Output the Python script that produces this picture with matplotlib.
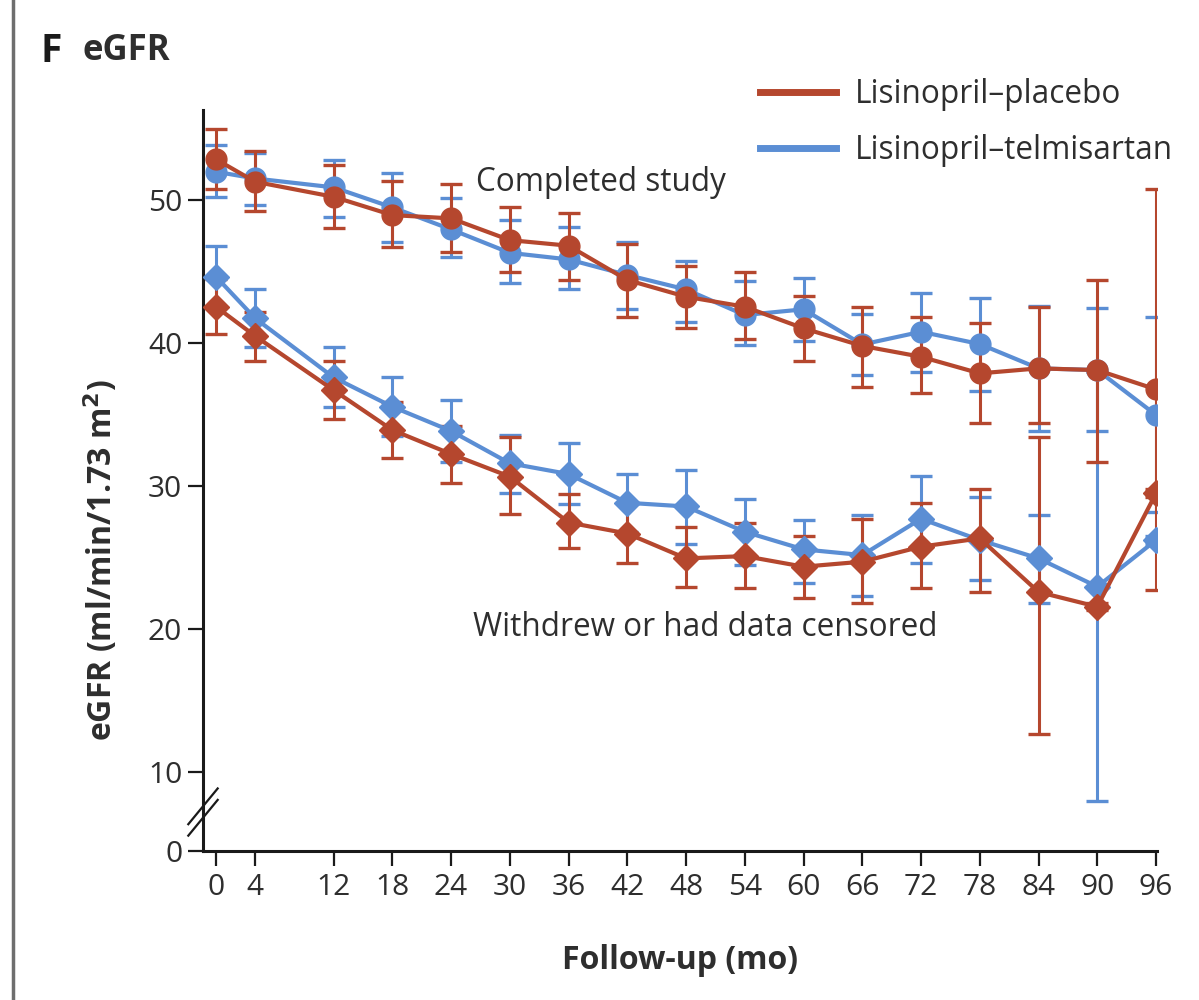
import matplotlib
matplotlib.use('Agg')
import matplotlib.pyplot as plt
import numpy as np
from matplotlib.lines import Line2D

plt.rcParams['font.family'] = ['Open Sans', 'DejaVu Sans']

# follow-up visits (months)
months = [0, 4, 12, 18, 24, 30, 36, 42, 48, 54, 60, 66, 72, 78, 84, 90, 96]

# completed study -- lisinopril-placebo
comp_plac = [52.85, 51.28, 50.23, 48.95, 48.72, 47.20, 46.81, 44.41, 43.24,
             42.54, 41.03, 39.80, 39.04, 37.88, 38.23, 38.11, 36.76]
comp_plac_lo = [50.75, 49.25, 48.06, 46.74, 46.39, 44.99, 44.41, 41.84, 41.03,
                40.26, 38.74, 36.90, 36.48, 34.38, 34.38, 31.70, 22.73]
comp_plac_hi = [54.94, 53.43, 52.45, 51.33, 51.10, 49.49, 49.11, 46.90, 45.41,
                44.99, 43.31, 42.54, 41.79, 41.37, 42.54, 44.41, 50.77]

# completed study -- lisinopril-telmisartan
comp_telm = [51.98, 51.51, 50.89, 49.49, 47.95, 46.31, 45.85, 44.76, 43.75,
             41.96, 42.36, 39.90, 40.79, 39.93, 38.23, 38.11, 34.97]
comp_telm_lo = [50.23, 49.67, 48.83, 47.09, 45.99, 44.17, 43.76, 42.36, 41.49,
                39.86, 40.16, 37.76, 37.97, 36.64, 33.85, 33.85, 28.20]
comp_telm_hi = [53.85, 53.30, 52.80, 51.91, 50.12, 48.60, 48.13, 47.10, 45.73,
                44.34, 44.52, 42.00, 43.47, 43.12, 42.60, 42.47, 41.79]

# withdrew or censored -- lisinopril-placebo
wd_plac = [42.54, 40.49, 36.71, 33.92, 32.24, 30.66, 27.45, 26.68, 24.94,
           25.10, 24.36, 24.71, 25.76, 26.34, 22.59, 21.56, 29.49]
wd_plac_lo = [40.61, 38.74, 34.69, 31.94, 30.24, 28.02, 25.64, 24.59, 22.96,
              22.84, 22.19, 21.84, 22.84, 22.59, 12.69, 21.30, 29.20]
wd_plac_hi = [44.45, 42.20, 38.74, 35.90, 34.20, 33.45, 29.44, 28.80, 27.15,
              27.43, 26.50, 27.67, 28.79, 29.77, 33.45, 21.80, 29.80]

# withdrew or censored -- lisinopril-telmisartan
wd_telm = [44.64, 41.73, 37.60, 35.55, 33.85, 31.59, 30.84, 28.83, 28.57,
           26.80, 25.57, 25.17, 27.71, 26.22, 24.94, 22.96, 26.22]
wd_telm_lo = [42.50, 39.74, 35.55, 33.50, 31.70, 29.54, 28.74, 26.80, 25.92,
              24.50, 23.24, 22.30, 24.59, 23.40, 21.84, 8.00, 25.95]
wd_telm_hi = [46.81, 43.76, 39.74, 37.60, 36.01, 33.60, 33.03, 30.84, 31.12,
              29.09, 27.62, 28.00, 30.70, 29.25, 27.97, 38.00, 26.50]

RED = '#b5472e'
BLUE = '#5b8ed4'
TXT = '#2e2e2e'

fig = plt.figure(figsize=(11.99, 10), dpi=100)
ax = fig.add_axes([203 / 1199, 0.149, (1157 - 203) / 1199, 0.741])

# y axis is broken between 0 and 10: bottom of the axis stands for 0
ybot = 10 - 79 / 14.3
ytop = 56.3


def draw(mean, lo, hi, color, marker, ms, z):
    m = np.array(mean)
    err = [m - np.array(lo), np.array(hi) - m]
    ax.errorbar(months, m, yerr=err, fmt='none', ecolor=color,
                elinewidth=2.2, capsize=8, capthick=2.4, zorder=z)
    ax.plot(months, m, color=color, lw=3, marker=marker, ms=ms,
            zorder=z + 2)


draw(comp_plac, comp_plac_lo, comp_plac_hi, RED, 'o', 15, 2.2)
draw(wd_plac, wd_plac_lo, wd_plac_hi, RED, 'D', 13, 2.2)
draw(comp_telm, comp_telm_lo, comp_telm_hi, BLUE, 'o', 15, 2.0)
draw(wd_telm, wd_telm_lo, wd_telm_hi, BLUE, 'D', 13, 2.0)

ax.set_xlim(-1.33, 96.1)
ax.set_ylim(ybot, ytop)
ax.set_xticks(months)
ax.set_xticklabels([str(m) for m in months])
ax.set_yticks([ybot, 10, 20, 30, 40, 50])
ax.set_yticklabels(['0', '10', '20', '30', '40', '50'])

for s in ['top', 'right']:
    ax.spines[s].set_visible(False)
for s in ['left', 'bottom']:
    ax.spines[s].set_linewidth(2.2)
    ax.spines[s].set_color('#1a1a1a')
ax.tick_params(axis='both', direction='out', length=11, width=1.6,
               color='#1a1a1a', labelsize=21.5, labelcolor=TXT)
ax.tick_params(axis='x', pad=5)
ax.tick_params(axis='y', pad=4)

# axis break marks
for off in [-0.4, 0.4]:
    xs = np.array([-1.33 - 1.5, -1.33 + 1.5])
    ys = np.array([7.2 + off - 1.25, 7.2 + off + 1.25])
    ax.plot(xs, ys, color='#1a1a1a', lw=1.6, clip_on=False, zorder=6)

ax.set_ylabel('eGFR (ml/min/1.73 m$^\\mathbf{2}$)', fontsize=23,
              fontweight='bold', color=TXT)
ax.yaxis.set_label_coords(-0.087, 0.393)
ax.set_xlabel('Follow-up (mo)', fontsize=23, fontweight='bold', color=TXT)
ax.xaxis.set_label_coords(0.5, -0.126)

ax.text(26.6, 51.2, 'Completed study', fontsize=22.7, color=TXT,
        va='center', ha='left')
ax.text(26.2, 20.1, 'Withdrew or had data censored', fontsize=22.7,
        color=TXT, va='center', ha='left')

handles = [Line2D([], [], color=RED, lw=5),
           Line2D([], [], color=BLUE, lw=5)]
ax.legend(handles, ['Lisinopril\u2013placebo', 'Lisinopril\u2013telmisartan'],
          loc='upper right', bbox_to_anchor=(0.978, 0.922),
          bbox_transform=fig.transFigure, frameon=False, fontsize=22.7,
          handlelength=2.4, handletextpad=0.6, labelspacing=0.72,
          borderpad=0, borderaxespad=0, labelcolor=TXT)

fig.text(40 / 1199, 0.949, 'F', fontsize=28, fontweight='bold',
         color='#1a1a1a', va='center', ha='left')
fig.text(82 / 1199, 0.949, 'eGFR', fontsize=25, fontweight='bold',
         color=TXT, va='center', ha='left')

# panel separator on the left
fig.add_artist(Line2D([13 / 1199, 13 / 1199], [0, 1], color='#6e6e6e',
                      lw=2.5, transform=fig.transFigure))

fig.savefig('out.png', dpi=100)
